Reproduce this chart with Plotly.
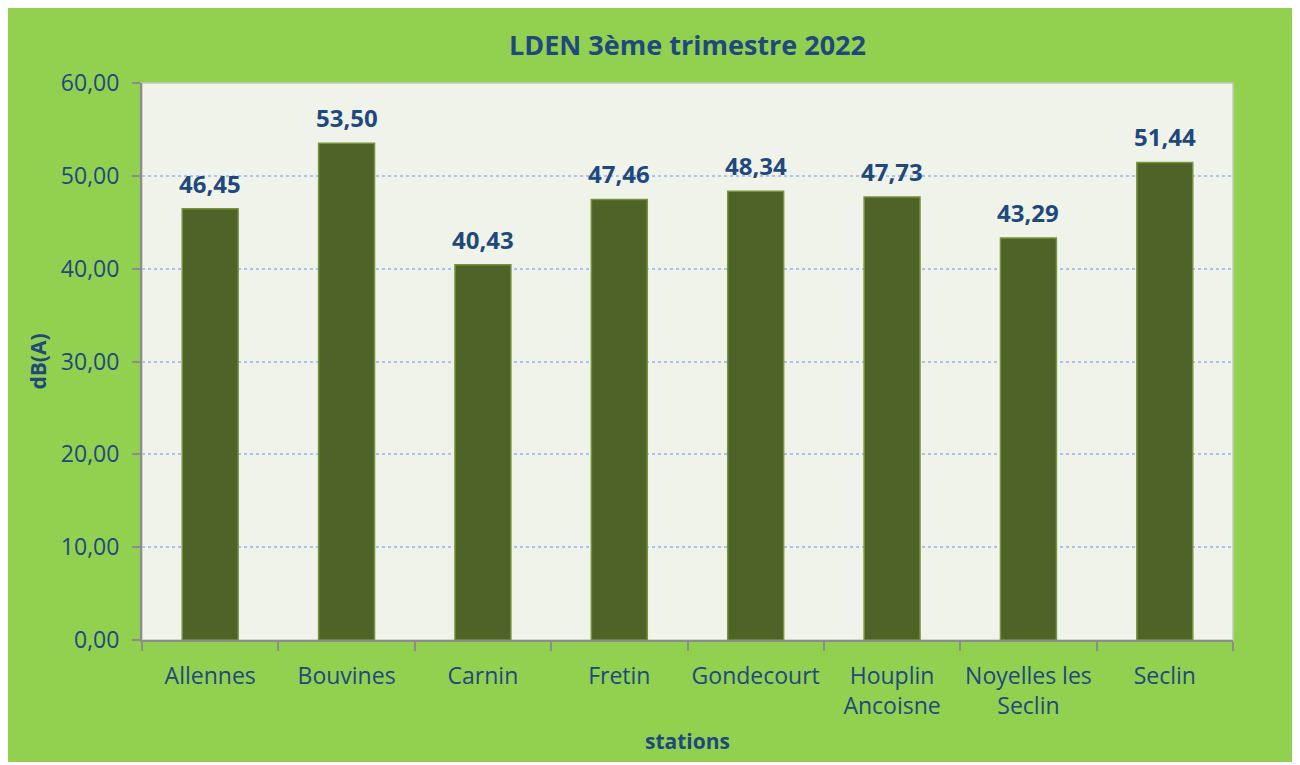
import plotly.graph_objects as go

# data
stations = ["Allennes", "Bouvines", "Carnin", "Fretin", "Gondecourt",
            "Houplin<br>Ancoisne", "Noyelles les<br>Seclin", "Seclin"]
lden = [46.45, 53.50, 40.43, 47.46, 48.34, 47.73, 43.29, 51.44]
y_ticks = [0, 10, 20, 30, 40, 50, 60]

BLUE = "#1F497D"
FONT = "Open Sans"

fig = go.Figure(go.Bar(
    x=stations,
    y=lden,
    width=0.41,
    marker=dict(color="#4F6228", line=dict(color="#77933C", width=1.5)),
    hoverinfo="skip",
))

# value labels above the bars
for s, v in zip(stations, lden):
    fig.add_annotation(x=s, y=v, text=f"<b>{v:.2f}".replace(".", ",") + "</b>",
                       showarrow=False, yanchor="bottom", yshift=7,
                       font=dict(family=FONT, size=24, color=BLUE))

# page has an 8px body margin, so the figure is a bit smaller than the window
fig.update_layout(
    width=1292, height=757,
    margin=dict(l=134, r=67, t=75, b=125),
    paper_bgcolor="white",
    plot_bgcolor="rgba(0,0,0,0)",
    separators=", ",
    showlegend=False,
    font=dict(family=FONT, color=BLUE, size=20),
    title=dict(text="<b>LDEN 3ème trimestre 2022</b>", x=0.5, xanchor="center",
               xref="paper", y=0.95, yanchor="middle", font=dict(size=27, color=BLUE)),
    shapes=[
        # green chart area background
        dict(type="rect", xref="paper", yref="paper", x0=-0.13, x1=1.06,
             y0=-0.219, y1=1.16, fillcolor="#92D050", line_width=0, layer="below"),
        # plot area
        dict(type="rect", xref="paper", yref="paper", x0=0, x1=1, y0=0, y1=1,
             fillcolor="#EFF3EA", line=dict(color="#C4CCBC", width=1.5), layer="below"),
    ],
)

fig.update_xaxes(
    automargin=False, tickangle=0,
    showline=True, linecolor="#8C8C8C", linewidth=2,
    ticks="outside", tickson="boundaries", ticklen=9, tickwidth=2, tickcolor="#8C8C8C",
    ticklabelstandoff=14,
    tickfont=dict(size=23, color=BLUE),
    title=dict(text="<b>stations</b>", font=dict(size=21, color=BLUE), standoff=15),
)
fig.update_yaxes(
    automargin=False,
    range=[0, 60], tickvals=y_ticks, tickformat=".2f",
    showline=True, linecolor="#8C8C8C", linewidth=2,
    ticks="outside", ticklen=8, tickwidth=2, tickcolor="#8C8C8C",
    ticklabelstandoff=8,
    showgrid=True, gridcolor="#A9C4EC", gridwidth=1.5, griddash="dot",
    zeroline=False,
    tickfont=dict(size=23, color=BLUE),
    title=dict(text="<b>dB(A)</b>", font=dict(size=21, color=BLUE), standoff=8),
)

fig.write_html("out.html")
